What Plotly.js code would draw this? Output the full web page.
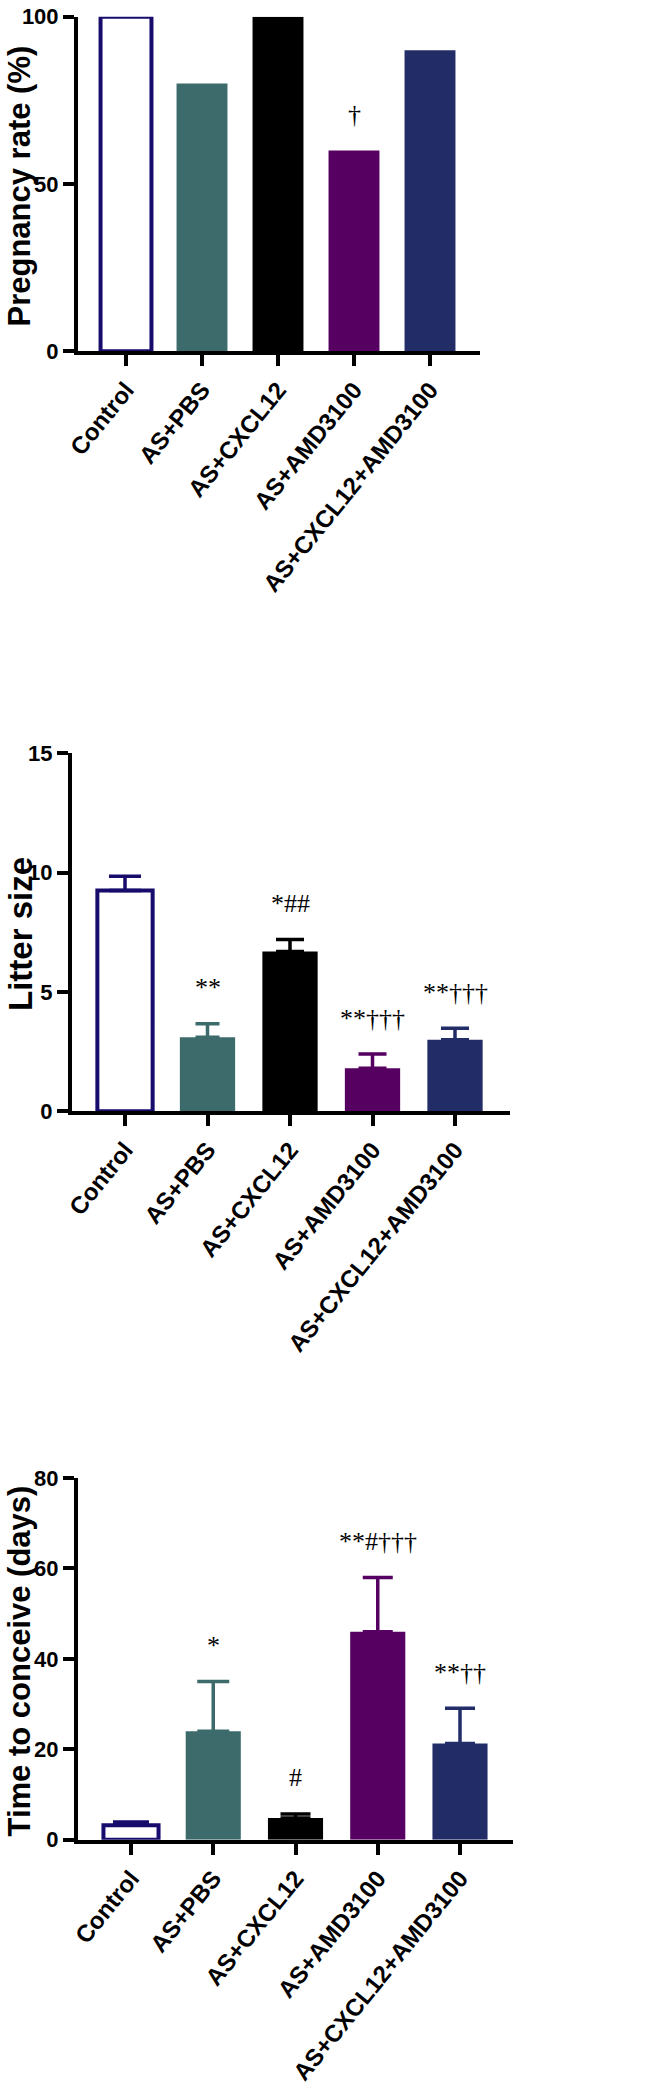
<!DOCTYPE html>
<html><head><meta charset="utf-8">
<script src="https://cdn.plot.ly/plotly-3.0.1.min.js"></script>
<style>html,body{margin:0;padding:0;background:#fff}#chart{width:648px;height:2099px}</style>
</head><body><div id="chart"></div>
<script>
// ---- data ----
const groups = ["Control", "AS+PBS", "AS+CXCL12", "AS+AMD3100", "AS+CXCL12+AMD3100"];

const pregnancyRate = [100, 80, 100, 60, 90];
const pregnancySig  = ["", "", "", "†", ""];

const litterSize    = [9.25, 3.1, 6.7, 1.8, 3.0];
const litterSizeErr = [0.6, 0.57, 0.5, 0.6, 0.48];
const litterSig     = ["", "**", "*##", "**†††", "**†††"];

const conceiveDays    = [3.2, 24, 4.8, 46, 21.3];
const conceiveDaysErr = [0.7, 11, 0.9, 12, 7.8];
const conceiveSig     = ["", "*", "#", "**#†††", "**††"];

const yTicks1 = [0, 50, 100];
const yTicks2 = [0, 5, 10, 15];
const yTicks3 = [0, 20, 40, 60, 80];

const yTitles = ["Pregnancy rate (%)", "Litter size", "Time to conceive (days)"];

// ---- styles ----
const fillColors = ["#ffffff", "#3d6b6b", "#000000", "#560062", "#222d68"];
const edgeColors = ["#170b6b", "#3d6b6b", "#000000", "#560062", "#222d68"];
const W = 648, H = 2099;

// panel geometry in pixels
const panels = [
  {lineX: 76, right: 480, top: 16.7, lineY: 353.3, c0: 126, step: 76,   yMax: 100, ticks: yTicks1,
   vals: pregnancyRate, errs: null, sig: pregnancySig, capW: null, titleX: 18.5, titleY: 186, titleSize: 31},
  {lineX: 70, right: 510, top: 753.3, lineY: 1113.3, c0: 125, step: 82.5, yMax: 15, ticks: yTicks2,
   vals: litterSize, errs: litterSizeErr, sig: litterSig, capW: [16, 12, 14, 14, 14], titleX: 21, titleY: 934, titleSize: 33},
  {lineX: 76, right: 513, top: 1478, lineY: 1841.7, c0: 131, step: 82.25, yMax: 80, ticks: yTicks3,
   vals: conceiveDays, errs: conceiveDaysErr, sig: conceiveSig, capW: [18, 16, 15, 15, 15], titleX: 18.5, titleY: 1661, titleSize: 31}
];

const traces = [];
const layout = {
  width: W, height: H,
  margin: {l: 0, r: 0, t: 0, b: 0},
  paper_bgcolor: "#fff", plot_bgcolor: "rgba(0,0,0,0)",
  showlegend: false, barmode: "overlay",
  annotations: []
};

const tickFontY = {family: "Liberation Sans, Arial, sans-serif", size: 22, color: "#000", weight: "bold"};
const tickFontX = {family: "Liberation Sans, Arial, sans-serif", size: 24, color: "#000", weight: "bold"};
const sigFont   = {family: "Liberation Serif, 'Times New Roman', serif", size: 26, color: "#000"};

panels.forEach((p, k) => {
  const n = k === 0 ? "" : String(k + 1);
  const left = p.lineX + 2, bottom = p.lineY - 2;
  layout["xaxis" + n] = {
    domain: [left / W, p.right / W],
    anchor: "y" + n,
    type: "category",
    categoryorder: "array", categoryarray: groups,
    range: [(left - p.c0) / p.step, (p.right - p.c0) / p.step],
    showline: true, linewidth: 4, linecolor: "#000",
    ticks: "outside", ticklen: 11, tickwidth: 4, tickcolor: "#000",
    tickangle: -51, tickfont: tickFontX,
    showgrid: false, zeroline: false, fixedrange: true
  };
  layout["yaxis" + n] = {
    domain: [1 - bottom / H, 1 - p.top / H],
    anchor: "x" + n,
    range: [0, p.yMax],
    tickmode: "array", tickvals: p.ticks, ticktext: p.ticks.map(String),
    showline: true, linewidth: 4, linecolor: "#000",
    ticks: "outside", ticklen: 11, tickwidth: 4, tickcolor: "#000",
    tickfont: tickFontY,
    showgrid: false, zeroline: false, fixedrange: true
  };
  groups.forEach((g, i) => {
    const t = {
      type: "bar", x: [g], y: [p.vals[i]],
      xaxis: "x" + n, yaxis: "y" + n,
      width: 0.67,
      marker: {color: fillColors[i], line: {color: edgeColors[i], width: i === 0 ? 4 : 0}},
      hoverinfo: "skip"
    };
    if (p.errs) {
      t.error_y = {type: "data", symmetric: false, array: [p.errs[i]], arrayminus: [0],
                   color: edgeColors[i], thickness: 3.5, width: p.capW[i]};
    }
    traces.push(t);
    if (p.sig[i]) {
      layout.annotations.push({
        xref: "x" + n, yref: "y" + n, x: g, y: p.vals[i] + (p.errs ? p.errs[i] : 0),
        text: p.sig[i], showarrow: false, xanchor: "center", yanchor: "middle", yshift: 36,
        font: sigFont
      });
    }
  });
  layout.annotations.push({
    xref: "paper", yref: "paper", x: p.titleX / W, y: 1 - p.titleY / H,
    xanchor: "center", yanchor: "middle", textangle: -90, showarrow: false,
    text: yTitles[k],
    font: {family: "Liberation Sans, Arial, sans-serif", size: p.titleSize, color: "#000", weight: "bold"}
  });
});

Plotly.newPlot("chart", traces, layout, {displayModeBar: false, staticPlot: true});
</script>
</body></html>
